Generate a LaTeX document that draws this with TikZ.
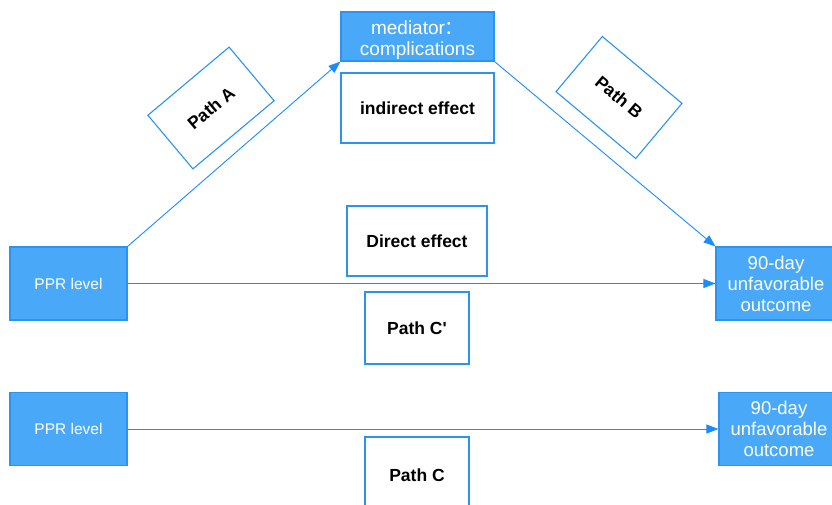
\documentclass[tikz,border=0pt]{standalone}
\usepackage{fontspec}
\setmainfont{Liberation Sans}
\newfontfamily\cjkfont{Noto Sans CJK SC}
\usetikzlibrary{arrows.meta,positioning}

\definecolor{boxfill}{HTML}{49A8F7}
\definecolor{boxline}{HTML}{2A94F0}
\definecolor{pathline}{HTML}{1A8CFF}

\begin{document}
\begin{tikzpicture}[x=1pt,y=-1pt]
\tikzset{
  varnode/.style={rectangle,draw=boxline,fill=boxfill,line width=1.1pt,inner sep=0pt,
    text=white,align=center,font=\fontsize{18.5}{21}\selectfont},
  labelbox/.style={rectangle,draw=boxline,fill=white,line width=1.1pt,inner sep=0pt,
    text=black,align=center,font=\fontsize{17.5}{20}\selectfont\bfseries},
  effect/.style={draw=pathline,line width=0.9pt,-{Triangle[length=12pt,width=9pt]}}
}
\path[use as bounding box] (0,0) rectangle (832,504);
\clip (0,0) rectangle (832,504);
% variables
\node[varnode,minimum width=153pt,minimum height=49pt,font=\fontsize{19}{21}\selectfont] (n_med) at (417.5,36.5)
  {\raisebox{-8.5pt}[0pt][0pt]{\begin{tabular}{@{}c@{}}mediator\smash{\cjkfont ：}\\complications\end{tabular}}};
\node[varnode,minimum width=117pt,minimum height=73pt,font=\fontsize{15.5}{18}\selectfont] (n_ppr1) at (68.5,283.5) {PPR level};
\node[varnode,minimum width=120pt,minimum height=73pt] (n_out1) at (776,283.5) {90-day\\unfavorable\\outcome};
\node[varnode,minimum width=117pt,minimum height=73pt,font=\fontsize{15.5}{18}\selectfont] (n_ppr2) at (68.5,429) {PPR level};
\node[varnode,minimum width=120pt,minimum height=73pt] (n_out2) at (779,429) {90-day\\unfavorable\\outcome};
% effect labels
\node[labelbox,minimum width=153pt,minimum height=70pt] (n_ind) at (417.5,108) {indirect effect};
\node[labelbox,minimum width=106pt,minimum height=70pt,rotate=40] (n_pathA) at (211,108) {Path A};
\node[labelbox,minimum width=104pt,minimum height=72pt,rotate=-40] (n_pathB) at (619,97.5) {Path B};
\node[labelbox,minimum width=140pt,minimum height=70pt] (n_dir) at (417,241) {Direct effect};
\node[labelbox,minimum width=104pt,minimum height=72pt] (n_pcp) at (417,328) {Path C\textquotesingle};
\node[labelbox,minimum width=104pt,minimum height=76pt] (n_pc) at (417,475) {Path C};
% paths
\draw[effect] (n_ppr1.north east) -- (n_med.south west);
\draw[effect] (n_med.south east) -- (n_out1.north west);
\draw[effect] (n_ppr1.east) -- (n_out1.west);
\draw[effect] (n_ppr2.east) -- (n_out2.west);
\end{tikzpicture}
\end{document}
